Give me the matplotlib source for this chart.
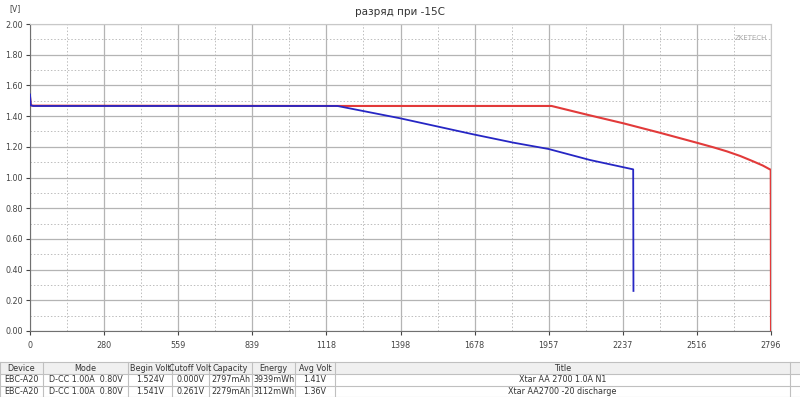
import numpy as np
import matplotlib.pyplot as plt
from matplotlib.patches import Rectangle

# discharge curves (mAh, V)
red_mah = [0, 3, 12, 600, 1200, 1960, 1968, 2100, 2239, 2380, 2515, 2580, 2630, 2680, 2729, 2765, 2795, 2796]
red_volt = [1.524, 1.470, 1.468, 1.467, 1.466, 1.466, 1.466, 1.410, 1.353, 1.290, 1.227, 1.196, 1.170, 1.140, 1.105, 1.078, 1.050, 0.0]

blue_mah = [0, 3, 12, 600, 1160, 1396, 1673, 1824, 1956, 2113, 2276, 2277]
blue_volt = [1.541, 1.470, 1.466, 1.466, 1.466, 1.386, 1.281, 1.227, 1.186, 1.114, 1.053, 0.261]

x_ticks = [0, 280, 559, 839, 1118, 1398, 1678, 1957, 2237, 2516, 2796]
y_ticks = [0.0, 0.2, 0.4, 0.6, 0.8, 1.0, 1.2, 1.4, 1.6, 1.8, 2.0]

col_names = ['Device', 'Mode', 'Begin Volt', 'Cutoff Volt', 'Capacity', 'Energy', 'Avg Volt', 'Title']
row1 = ['EBC-A20', 'D-CC 1.00A  0.80V', '1.524V', '0.000V', '2797mAh', '3939mWh', '1.41V', 'Xtar AA 2700 1.0A N1']
row2 = ['EBC-A20', 'D-CC 1.00A  0.80V', '1.541V', '0.261V', '2279mAh', '3112mWh', '1.36V', 'Xtar AA2700 -20 discharge']

fig = plt.figure(figsize=(8, 3.97), dpi=100)
ax = fig.add_axes([30 / 800, 1 - 331 / 397, 741 / 800, 307 / 397])

ax.plot(red_mah, red_volt, color='#e23a3a', lw=1.5, zorder=3)
ax.plot(blue_mah, blue_volt, color='#2626c4', lw=1.3, zorder=4)

ax.set_xlim(0, 2796)
ax.set_ylim(0, 2.0)
ax.set_xticks(x_ticks)
ax.set_xticklabels([str(t) for t in x_ticks])
ax.set_yticks(y_ticks)
ax.set_yticklabels(['%.2f' % t for t in y_ticks])
ax.set_xticks([(x_ticks[i] + x_ticks[i + 1]) / 2 for i in range(len(x_ticks) - 1)], minor=True)
ax.set_yticks([t + 0.1 for t in y_ticks[:-1]], minor=True)
ax.tick_params(which='minor', length=0)
ax.tick_params(which='major', labelsize=5.8, colors='#444444', length=3, width=0.8)
ax.tick_params(axis='x', pad=4)
ax.tick_params(axis='y', pad=2)
ax.grid(which='major', color='#b4b4b4', lw=0.9, ls='-')
ax.grid(which='minor', color='#bdbdbd', lw=0.7, ls=(0, (1.5, 2)))
for s in ['top', 'right']:
    ax.spines[s].set_color('#c8c8c8')
for s in ['left', 'bottom']:
    ax.spines[s].set_color('#707070')

fig.text(0.5, 1 - 12 / 397, 'разряд при -15С', ha='center', va='center', fontsize=7.5, color='#333333')
fig.text(15 / 800, 1 - 9 / 397, '[V]', ha='center', va='center', fontsize=5.5, color='#444444')
ax.text(0.995, 0.955, 'ZKETECH', transform=ax.transAxes, ha='right', va='center', fontsize=5, color='#aaaaaa')

# table below the chart
tax = fig.add_axes([0, 0, 1, 36 / 397])
tax.set_xlim(0, 800)
tax.set_ylim(397, 361)
tax.axis('off')
edges = [0, 43, 128, 172, 209, 252, 295, 335, 790]
rows_y = [362, 374, 385.5, 396.5]
tax.add_patch(Rectangle((0, rows_y[0]), 800, rows_y[1] - rows_y[0], color='#f0f0f0', lw=0))
for y in rows_y:
    tax.plot([0, 800], [y, y], color='#c0c0c0', lw=0.8)
for x in edges:
    tax.plot([x, x], [rows_y[0], rows_y[-1]], color='#c0c0c0', lw=0.8)
for r, cells in enumerate([col_names, row1, row2]):
    yc = (rows_y[r] + rows_y[r + 1]) / 2
    for c, txt in enumerate(cells):
        xc = (edges[c] + edges[c + 1]) / 2
        tax.text(xc, yc, txt, ha='center', va='center', fontsize=5.8, color='#333333')

plt.savefig('out.png', dpi=100)
